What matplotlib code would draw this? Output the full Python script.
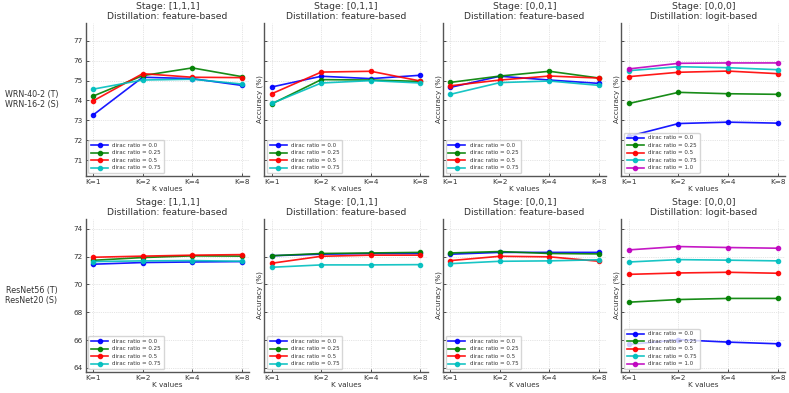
import matplotlib
matplotlib.use("Agg")
import matplotlib.pyplot as plt

k_labels = ["K=1", "K=2", "K=4", "K=8"]
stages = ["[1,1,1]", "[0,1,1]", "[0,0,1]", "[0,0,0]"]
methods = ["feature-based", "feature-based", "feature-based", "logit-based"]
row_labels = ["WRN-40-2 (T)\nWRN-16-2 (S)", "ResNet56 (T)\nResNet20 (S)"]
ratios = ["0.0", "0.25", "0.5", "0.75", "1.0"]
colors = ["b", "g", "r", "c", "m"]

# WRN rows: [panel][ratio] -> values at K=1,2,4,8
wrn_111 = [[73.27, 75.17, 75.10, 74.76],
           [74.22, 75.25, 75.64, 75.20],
           [73.98, 75.35, 75.17, 75.15],
           [74.57, 75.03, 75.07, 74.83]]
wrn_011 = [[74.68, 75.22, 75.10, 75.27],
           [73.83, 75.05, 75.03, 74.96],
           [74.34, 75.43, 75.47, 74.98],
           [73.85, 74.88, 75.00, 74.88]]
wrn_001 = [[74.66, 75.22, 75.03, 74.86],
           [74.91, 75.23, 75.47, 75.13],
           [74.74, 75.03, 75.23, 75.13],
           [74.31, 74.90, 74.98, 74.76]]
wrn_000 = [[72.20, 72.84, 72.91, 72.86],
           [73.85, 74.41, 74.34, 74.31],
           [75.20, 75.42, 75.48, 75.35],
           [75.50, 75.70, 75.65, 75.55],
           [75.59, 75.87, 75.89, 75.89]]

res_111 = [[71.45, 71.57, 71.61, 71.64],
           [71.73, 71.93, 72.05, 72.03],
           [71.95, 72.03, 72.10, 72.14],
           [71.64, 71.69, 71.71, 71.66]]
res_011 = [[72.06, 72.17, 72.22, 72.22],
           [72.06, 72.22, 72.26, 72.30],
           [71.52, 72.02, 72.10, 72.10],
           [71.23, 71.40, 71.40, 71.42]]
res_001 = [[72.17, 72.30, 72.30, 72.30],
           [72.26, 72.36, 72.22, 72.19],
           [71.71, 72.02, 71.98, 71.66],
           [71.49, 71.66, 71.69, 71.77]]
res_000 = [[65.68, 66.02, 65.85, 65.73],
           [68.72, 68.91, 68.99, 68.99],
           [70.72, 70.82, 70.87, 70.80],
           [71.61, 71.78, 71.74, 71.69],
           [72.48, 72.72, 72.65, 72.60]]

data = [[wrn_111, wrn_011, wrn_001, wrn_000],
        [res_111, res_011, res_001, res_000]]
ylims = [(70.2, 77.9), (63.7, 74.7)]
yticks = [[71, 72, 73, 74, 75, 76, 77], [64, 66, 68, 70, 72, 74]]

fig, axes = plt.subplots(2, 4, figsize=(7.89, 3.93), dpi=100, sharey="row")
fig.subplots_adjust(left=0.1086, right=0.995, top=0.9415, bottom=0.0534,
                    wspace=0.092, hspace=0.281)

x = list(range(len(k_labels)))
for r in range(2):
    for c in range(4):
        ax = axes[r][c]
        for i, vals in enumerate(data[r][c]):
            ax.plot(x, vals, color=colors[i], marker="o", markersize=3,
                    linewidth=1.2, alpha=0.9, label=f"dirac ratio = {ratios[i]}")
        ax.set_title(f"Stage: {stages[c]}\nDistillation: {methods[c]}",
                     fontsize=6.7, color="#333333", pad=3, linespacing=1.1)
        ax.set_xticks(x)
        ax.set_xticklabels(k_labels)
        ax.set_xlabel("K values", fontsize=5.2, color="#333333", labelpad=1)
        ax.set_ylim(*ylims[r])
        ax.set_yticks(yticks[r])
        ax.tick_params(axis="both", labelsize=5.2, direction="in", length=2,
                       width=0.6, pad=2, colors="#333333")
        if c > 0:
            ax.set_ylabel("Accuracy (%)", fontsize=5.2, color="#333333", labelpad=1)
            ax.tick_params(axis="y", labelleft=False)
        ax.grid(True, linestyle=":", linewidth=0.5, color="#cccccc")
        for s in ["top", "right"]:
            ax.spines[s].set_visible(False)
        for s in ["left", "bottom"]:
            ax.spines[s].set_color("#555555")
            ax.spines[s].set_linewidth(1.0)
        leg = ax.legend(loc="lower left", fontsize=4, framealpha=0.8,
                        edgecolor="#cccccc", handlelength=3, borderpad=0.5,
                        labelspacing=0.45)
        for t in leg.get_texts():
            t.set_color("#333333")
    fig.text(0.04, (axes[r][0].get_position().y0 + axes[r][0].get_position().y1) / 2,
             row_labels[r], ha="center", va="center", fontsize=5.8, color="#333333")

fig.savefig("out.png", dpi=100)
